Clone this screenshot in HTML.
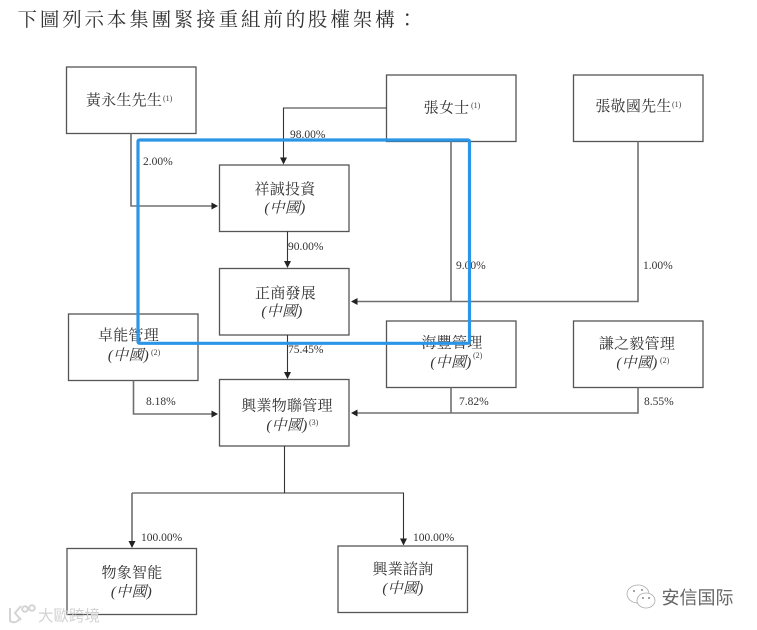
<!DOCTYPE html>
<html lang="zh-Hant">
<head>
<meta charset="utf-8">
<title>股權架構</title>
<style>
html,body{margin:0;padding:0;background:#fff;width:757px;height:630px;overflow:hidden}
svg{display:block}
text{font-family:"Liberation Serif","Noto Serif CJK SC","Noto Sans CJK TC",serif;fill:#333}
.t{font-size:15px;text-anchor:middle;letter-spacing:.25px}
.i{font-size:15px;font-style:italic;text-anchor:middle;letter-spacing:.3px}
.p{font-size:11.5px;fill:#333}
.s{font-size:8px;fill:#444}
.b{fill:none;stroke:#555;stroke-width:1.3}
.l{fill:none;stroke:#333;stroke-width:1.1}
.g{fill:none;stroke:#707070;stroke-width:1.6}
.a{fill:#222}
</style>
</head>
<body>
<svg width="757" height="630" viewBox="0 0 757 630" xmlns="http://www.w3.org/2000/svg">
<rect width="757" height="630" fill="#fff"/>
<text x="17.500" y="26" style="font-size:19.500px;letter-spacing:2.850px">下圖列示本集團緊接重組前的股權架構：</text>

<rect class="b" x="66.500" y="67" width="129.500" height="66.500"/>
<rect class="b" x="386.500" y="75" width="129.500" height="66.500"/>
<rect class="b" x="573.500" y="75" width="129.500" height="66.500"/>
<rect class="b" x="219.500" y="165" width="129.500" height="66.500"/>
<rect class="b" x="219.500" y="268.500" width="129.500" height="66.500"/>
<rect class="b" x="68.500" y="314" width="129.500" height="66.500"/>
<rect class="b" x="386.500" y="321" width="129.500" height="66.500"/>
<rect class="b" x="573.500" y="321" width="129.500" height="66.500"/>
<rect class="b" x="219.500" y="379.500" width="129.500" height="66.500"/>
<rect class="b" x="67" y="548.500" width="129.500" height="66"/>
<rect class="b" x="338" y="546" width="129.500" height="66.500"/>

<path class="g" d="M131 133.500V206H214"/>
<path class="a" d="M218 206l-6.500-3.500v7z"/>
<path class="l" d="M386.500 108H283.500V160"/>
<path class="a" d="M283.500 164.500l-3.500-7h7z"/>
<path class="l" d="M287.500 231.500V264"/>
<path class="a" d="M287.500 268l-3.500-7h7z"/>
<path class="g" d="M451 141.500V301.500"/>
<path class="g" d="M638 141.500V301.500H356"/>
<path class="a" d="M351 301.500l6.500-3.500v7z"/>
<path class="l" d="M287.500 335V374"/>
<path class="a" d="M287.500 379l-3.500-7h7z"/>
<path class="g" d="M133.500 380.500V414H214"/>
<path class="a" d="M218 414l-6.500-3.500v7z"/>
<path class="g" d="M638 387.500V413H356"/>
<path class="g" d="M451 387.500V413"/>
<path class="a" d="M351 413l6.500-3.500v7z"/>
<path class="l" d="M284.500 446V493"/>
<path class="l" d="M132 493H403.500V541"/>
<path class="g" d="M132 493V543"/>
<path class="a" d="M132 548l-3.500-7h7z"/>
<path class="a" d="M403.500 545.500l-3.500-7h7z"/>

<text class="t" x="124" y="105">黃永生先生</text><text class="s" x="163" y="101">(1)</text>
<text class="t" x="446.500" y="112.500">張女士</text><text class="s" x="471" y="108">(1)</text>
<text class="t" x="633.500" y="111">張敬國先生</text><text class="s" x="672" y="107">(1)</text>
<text class="t" x="285" y="194">祥誠投資</text><text class="i" x="285" y="212.500">(中國)</text>
<text class="t" x="285.500" y="298">正商發展</text><text class="i" x="282" y="316">(中國)</text>
<text class="t" x="128.500" y="340">卓能管理</text><text class="i" x="128.500" y="360">(中國)</text><text class="s" x="151" y="355">(2)</text>
<text class="t" x="452" y="347.500">海豐管理</text><text class="i" x="451" y="367">(中國)</text><text class="s" x="473" y="358">(2)</text>
<text class="t" x="637" y="348.500">謙之毅管理</text><text class="i" x="637" y="367.500">(中國)</text><text class="s" x="660" y="363">(2)</text>
<text class="t" x="287" y="410.500">興業物聯管理</text><text class="i" x="287" y="430">(中國)</text><text class="s" x="309" y="425">(3)</text>
<text class="t" x="132" y="577.500">物象智能</text><text class="i" x="131.500" y="596.500">(中國)</text>
<text class="t" x="403" y="574">興業諮詢</text><text class="i" x="403" y="593">(中國)</text>

<text class="p" x="290" y="138">98.00%</text>
<text class="p" x="143" y="165">2.00%</text>
<text class="p" x="288" y="250">90.00%</text>
<text class="p" x="456" y="269">9.00%</text>
<text class="p" x="643" y="269">1.00%</text>
<text class="p" x="288" y="353">75.45%</text>
<text class="p" x="146" y="405">8.18%</text>
<text class="p" x="459" y="405">7.82%</text>
<text class="p" x="644" y="405">8.55%</text>
<text class="p" x="141" y="541">100.00%</text>
<text class="p" x="413" y="541">100.00%</text>

<rect x="138" y="140" width="331.500" height="203.300" rx="1.500" fill="none" stroke="#2b95e8" stroke-width="3.200"/>

<g fill="none" stroke="#d4d4d4" stroke-width="2">
<path d="M10 608v13c5 3 9 0 10-4M21 606l-6 7 6 7"/>
<circle cx="25" cy="609" r="2.800"/><circle cx="32" cy="608" r="2.800"/>
</g>
<text x="38" y="621" style="font-size:15.500px;fill:#d2d2d2;font-family:'Liberation Sans','Noto Sans CJK SC',sans-serif">大歐跨境</text>

<g fill="none" stroke="#aaa" stroke-width="0.800">
<ellipse cx="638" cy="594" rx="11" ry="9"/>
<ellipse cx="646" cy="600.500" rx="9" ry="7.500" fill="#fff"/>
</g>
<g fill="#888"><circle cx="634" cy="591" r="1"/><circle cx="642" cy="590" r="1"/><circle cx="643" cy="598" r="1"/><circle cx="649" cy="598" r="1"/></g>
<text x="661.500" y="604" style="font-size:18px;fill:#666;font-family:'Liberation Sans','Noto Sans CJK SC',sans-serif">安信国际</text>
</svg>
</body>
</html>
